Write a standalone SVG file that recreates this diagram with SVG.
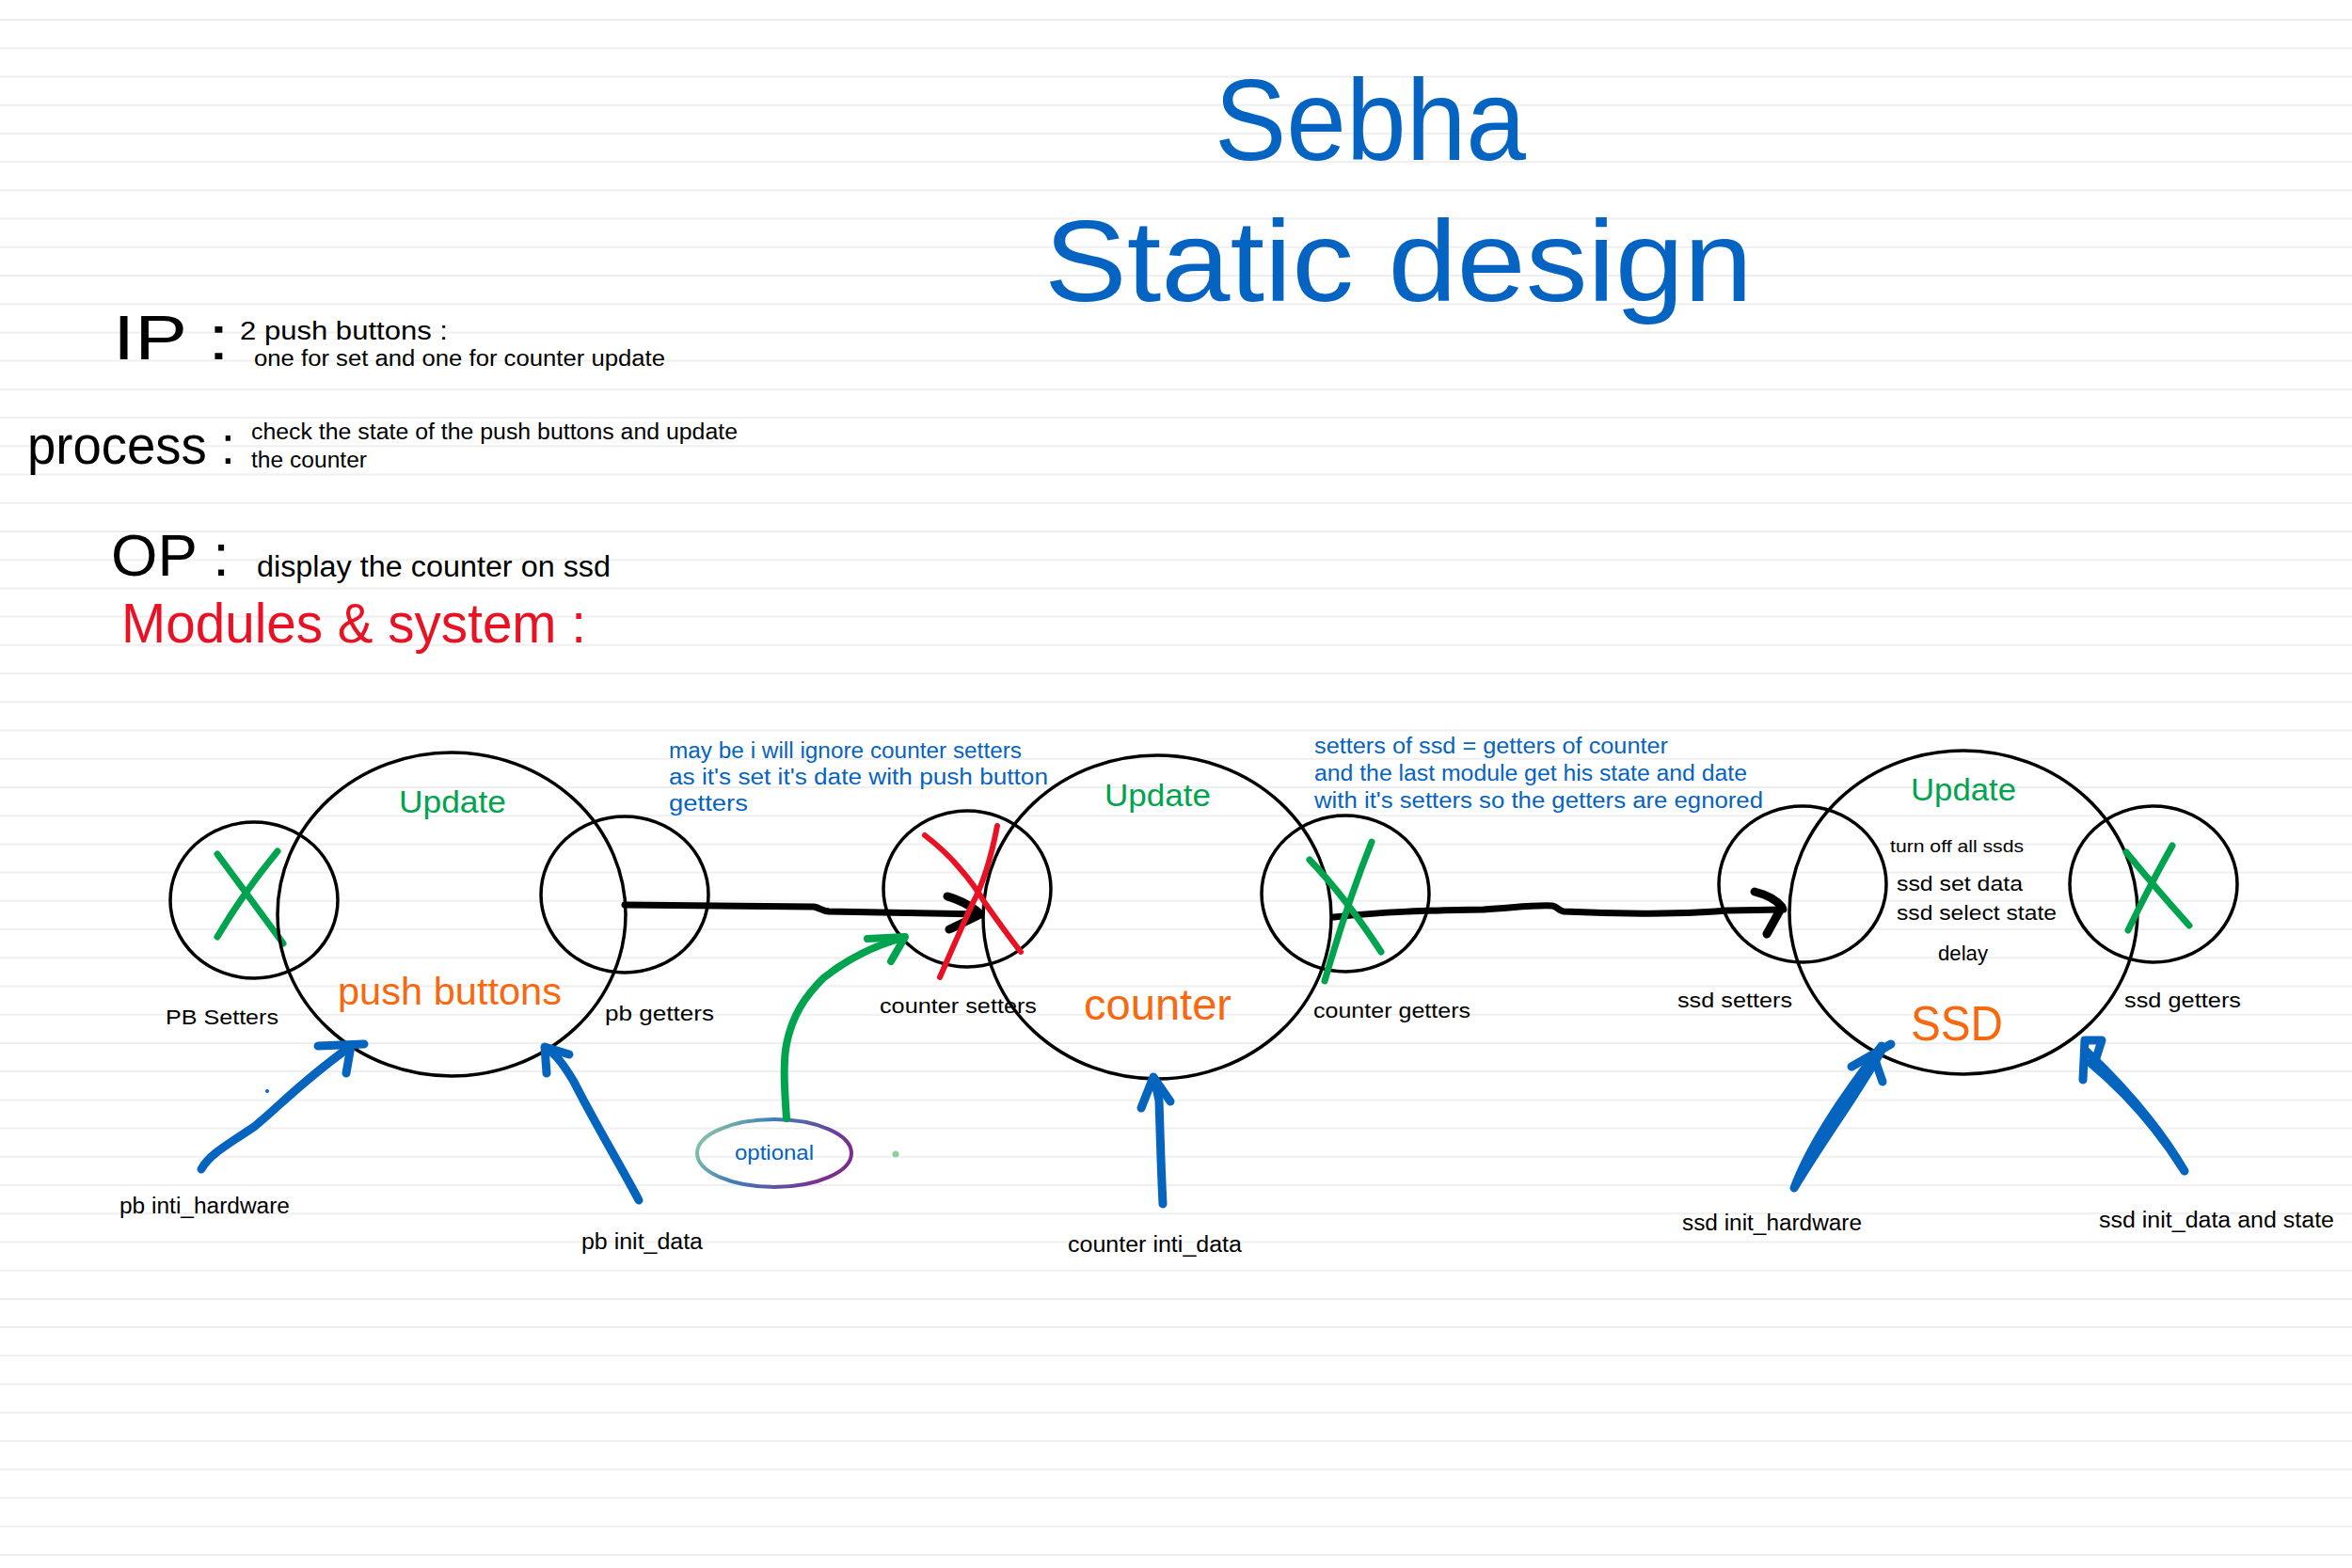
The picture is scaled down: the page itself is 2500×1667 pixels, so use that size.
<svg xmlns="http://www.w3.org/2000/svg" width="2500" height="1667" viewBox="0 0 2500 1667">
<style>
.rule{stroke:#efefef;stroke-width:2}
.c{fill:none;stroke:#000;stroke-width:3.5}
.t{font-family:"Liberation Sans",Arial,sans-serif;fill:#000}
.blue{fill:#0563C1}
.green{fill:#00A34E}
.orange{fill:#F7680F}
.red{fill:#E81224}
.bk{fill:none;stroke:#000;stroke-width:7;stroke-linecap:round;stroke-linejoin:round}
.bkh{fill:none;stroke:#000;stroke-width:9;stroke-linecap:round;stroke-linejoin:round}
.bl{fill:none;stroke:#0565BE;stroke-width:9;stroke-linecap:round;stroke-linejoin:round}
.gr{fill:none;stroke:#00A34E;stroke-width:8;stroke-linecap:round;stroke-linejoin:round}
.gx{fill:none;stroke:#00A34E;stroke-width:7;stroke-linecap:round;stroke-linejoin:round}
.rx{fill:none;stroke:#E81224;stroke-width:6;stroke-linecap:round;stroke-linejoin:round}
</style>
<defs>
<linearGradient id="optg" x1="0" y1="0" x2="1" y2="0.3">
<stop offset="0" stop-color="#9ad4a0"/>
<stop offset="0.45" stop-color="#3f7fb8"/>
<stop offset="1" stop-color="#7a2d8f"/>
</linearGradient>
</defs>
<rect width="2500" height="1667" fill="#fff"/>
<g id="ruling">
<line class="rule" x1="0" x2="2500" y1="21" y2="21"/><line class="rule" x1="0" x2="2500" y1="51.2" y2="51.2"/><line class="rule" x1="0" x2="2500" y1="81.4" y2="81.4"/><line class="rule" x1="0" x2="2500" y1="111.7" y2="111.7"/><line class="rule" x1="0" x2="2500" y1="141.9" y2="141.9"/><line class="rule" x1="0" x2="2500" y1="172.1" y2="172.1"/><line class="rule" x1="0" x2="2500" y1="202.3" y2="202.3"/><line class="rule" x1="0" x2="2500" y1="232.5" y2="232.5"/><line class="rule" x1="0" x2="2500" y1="262.8" y2="262.8"/><line class="rule" x1="0" x2="2500" y1="293" y2="293"/><line class="rule" x1="0" x2="2500" y1="323.2" y2="323.2"/><line class="rule" x1="0" x2="2500" y1="353.4" y2="353.4"/><line class="rule" x1="0" x2="2500" y1="383.6" y2="383.6"/><line class="rule" x1="0" x2="2500" y1="413.9" y2="413.9"/><line class="rule" x1="0" x2="2500" y1="444.1" y2="444.1"/><line class="rule" x1="0" x2="2500" y1="474.3" y2="474.3"/><line class="rule" x1="0" x2="2500" y1="504.5" y2="504.5"/><line class="rule" x1="0" x2="2500" y1="534.7" y2="534.7"/><line class="rule" x1="0" x2="2500" y1="565" y2="565"/><line class="rule" x1="0" x2="2500" y1="595.2" y2="595.2"/><line class="rule" x1="0" x2="2500" y1="625.4" y2="625.4"/><line class="rule" x1="0" x2="2500" y1="655.6" y2="655.6"/><line class="rule" x1="0" x2="2500" y1="685.8" y2="685.8"/><line class="rule" x1="0" x2="2500" y1="716.1" y2="716.1"/><line class="rule" x1="0" x2="2500" y1="746.3" y2="746.3"/><line class="rule" x1="0" x2="2500" y1="776.5" y2="776.5"/><line class="rule" x1="0" x2="2500" y1="806.7" y2="806.7"/><line class="rule" x1="0" x2="2500" y1="836.9" y2="836.9"/><line class="rule" x1="0" x2="2500" y1="867.2" y2="867.2"/><line class="rule" x1="0" x2="2500" y1="897.4" y2="897.4"/><line class="rule" x1="0" x2="2500" y1="927.6" y2="927.6"/><line class="rule" x1="0" x2="2500" y1="957.8" y2="957.8"/><line class="rule" x1="0" x2="2500" y1="988" y2="988"/><line class="rule" x1="0" x2="2500" y1="1018.3" y2="1018.3"/><line class="rule" x1="0" x2="2500" y1="1048.5" y2="1048.5"/><line class="rule" x1="0" x2="2500" y1="1078.7" y2="1078.7"/><line class="rule" x1="0" x2="2500" y1="1108.9" y2="1108.9"/><line class="rule" x1="0" x2="2500" y1="1139.1" y2="1139.1"/><line class="rule" x1="0" x2="2500" y1="1169.4" y2="1169.4"/><line class="rule" x1="0" x2="2500" y1="1199.6" y2="1199.6"/><line class="rule" x1="0" x2="2500" y1="1229.8" y2="1229.8"/><line class="rule" x1="0" x2="2500" y1="1260" y2="1260"/><line class="rule" x1="0" x2="2500" y1="1290.2" y2="1290.2"/><line class="rule" x1="0" x2="2500" y1="1320.5" y2="1320.5"/><line class="rule" x1="0" x2="2500" y1="1350.7" y2="1350.7"/><line class="rule" x1="0" x2="2500" y1="1380.9" y2="1380.9"/><line class="rule" x1="0" x2="2500" y1="1411.1" y2="1411.1"/><line class="rule" x1="0" x2="2500" y1="1441.3" y2="1441.3"/><line class="rule" x1="0" x2="2500" y1="1471.6" y2="1471.6"/><line class="rule" x1="0" x2="2500" y1="1501.8" y2="1501.8"/><line class="rule" x1="0" x2="2500" y1="1532" y2="1532"/><line class="rule" x1="0" x2="2500" y1="1562.2" y2="1562.2"/><line class="rule" x1="0" x2="2500" y1="1592.4" y2="1592.4"/><line class="rule" x1="0" x2="2500" y1="1622.7" y2="1622.7"/><line class="rule" x1="0" x2="2500" y1="1652.9" y2="1652.9"/>
</g>
<g id="title">
<text class="t blue" x="1291" y="170" font-size="123" textLength="331" lengthAdjust="spacingAndGlyphs">Sebha</text>
<text class="t blue" x="1110" y="320" font-size="123" textLength="753" lengthAdjust="spacingAndGlyphs">Static  design</text>
</g>
<g id="notes">
<text class="t" x="120" y="382" font-size="66" textLength="124" lengthAdjust="spacingAndGlyphs">IP :</text>
<text class="t" x="255" y="361" font-size="27" textLength="221" lengthAdjust="spacingAndGlyphs">2 push buttons :</text>
<text class="t" x="270" y="389" font-size="23" textLength="437" lengthAdjust="spacingAndGlyphs">one for set and one for counter update</text>
<text class="t" x="29" y="493" font-size="58" textLength="221" lengthAdjust="spacingAndGlyphs">process :</text>
<text class="t" x="267" y="467" font-size="23" textLength="517" lengthAdjust="spacingAndGlyphs">check the state of the push buttons and update</text>
<text class="t" x="267" y="497" font-size="23" textLength="123" lengthAdjust="spacingAndGlyphs">the counter</text>
<text class="t" x="118" y="612" font-size="63" textLength="126" lengthAdjust="spacingAndGlyphs">OP :</text>
<text class="t" x="273" y="613" font-size="31" textLength="376" lengthAdjust="spacingAndGlyphs">display the counter on ssd</text>
<text class="t red" x="129" y="683" font-size="60" textLength="494" lengthAdjust="spacingAndGlyphs">Modules &amp; system :</text>
<text class="t blue" x="711" y="806" font-size="23" textLength="375" lengthAdjust="spacingAndGlyphs">may be i will ignore counter setters</text>
<text class="t blue" x="711" y="834" font-size="23" textLength="403" lengthAdjust="spacingAndGlyphs">as it's set it's date with push button</text>
<text class="t blue" x="711" y="862" font-size="23" textLength="84" lengthAdjust="spacingAndGlyphs">getters</text>
<text class="t blue" x="1397" y="801" font-size="23" textLength="376" lengthAdjust="spacingAndGlyphs">setters of ssd = getters of counter</text>
<text class="t blue" x="1397" y="830" font-size="23" textLength="460" lengthAdjust="spacingAndGlyphs">and the last module get his state and date</text>
<text class="t blue" x="1397" y="859" font-size="23" textLength="477" lengthAdjust="spacingAndGlyphs">with it's setters so the getters are egnored</text>
</g>
<g id="pb-setters">
<ellipse class="c" cx="270" cy="957" rx="89" ry="83"/>
<path class="gx" d="M231,908 Q262,950 301,1003 M295,905 Q258,950 231,996"/>
<text class="t" x="176" y="1089" font-size="22" textLength="120" lengthAdjust="spacingAndGlyphs">PB Setters</text>
</g>
<g id="push-buttons">
<ellipse class="c" cx="480" cy="972" rx="185" ry="172"/>
<text class="t green" x="424" y="864" font-size="33" textLength="114" lengthAdjust="spacingAndGlyphs">Update</text>
<text class="t orange" x="359" y="1068" font-size="40" textLength="238" lengthAdjust="spacingAndGlyphs">push buttons</text>
</g>
<g id="pb-getters">
<ellipse class="c" cx="664" cy="951" rx="89" ry="83"/>
<text class="t" x="643" y="1085" font-size="22" textLength="116" lengthAdjust="spacingAndGlyphs">pb getters</text>
</g>
<g id="counter-setters">
<ellipse class="c" cx="1028" cy="945" rx="89" ry="83"/>
<text class="t" x="935" y="1077" font-size="22" textLength="167" lengthAdjust="spacingAndGlyphs">counter setters</text>
</g>
<g id="counter">
<ellipse class="c" cx="1230" cy="975" rx="185" ry="172"/>
<text class="t green" x="1174" y="857" font-size="33" textLength="113" lengthAdjust="spacingAndGlyphs">Update</text>
<text class="t orange" x="1152" y="1084" font-size="46" textLength="157" lengthAdjust="spacingAndGlyphs">counter</text>
</g>
<g id="counter-getters">
<ellipse class="c" cx="1430" cy="950" rx="89" ry="83"/>
<text class="t" x="1396" y="1082" font-size="22" textLength="167" lengthAdjust="spacingAndGlyphs">counter getters</text>
</g>
<g id="ssd-setters">
<ellipse class="c" cx="1916" cy="940" rx="89" ry="83"/>
<text class="t" x="1783" y="1071" font-size="22" textLength="122" lengthAdjust="spacingAndGlyphs">ssd setters</text>
</g>
<g id="ssd">
<ellipse class="c" cx="2087" cy="970" rx="185" ry="172"/>
<text class="t green" x="2031" y="851" font-size="33" textLength="112" lengthAdjust="spacingAndGlyphs">Update</text>
<text class="t" x="2009" y="906" font-size="19" textLength="142" lengthAdjust="spacingAndGlyphs">turn off all ssds</text>
<text class="t" x="2016" y="947" font-size="22" textLength="134" lengthAdjust="spacingAndGlyphs">ssd set data</text>
<text class="t" x="2016" y="978" font-size="22" textLength="170" lengthAdjust="spacingAndGlyphs">ssd select state</text>
<text class="t" x="2060" y="1021" font-size="22" textLength="53" lengthAdjust="spacingAndGlyphs">delay</text>
<text class="t orange" x="2031" y="1106" font-size="52" textLength="98" lengthAdjust="spacingAndGlyphs">SSD</text>
</g>
<g id="ssd-getters">
<ellipse class="c" cx="2289" cy="940" rx="89" ry="83"/>
<path class="gx" d="M2260,906 Q2292,945 2327,984 M2309,899 Q2283,945 2262,989"/>
<text class="t" x="2258" y="1071" font-size="22" textLength="124" lengthAdjust="spacingAndGlyphs">ssd getters</text>
</g>
<g id="optional">
<ellipse cx="823" cy="1226" rx="82" ry="36" fill="none" stroke="url(#optg)" stroke-width="4"/>
<text class="t blue" x="781" y="1233" font-size="22" textLength="84" lengthAdjust="spacingAndGlyphs">optional</text>
</g>
<g id="init-labels">
<text class="t" x="127" y="1290" font-size="23" textLength="181" lengthAdjust="spacingAndGlyphs">pb inti_hardware</text>
<text class="t" x="618" y="1328" font-size="23" textLength="129" lengthAdjust="spacingAndGlyphs">pb init_data</text>
<text class="t" x="1135" y="1331" font-size="23" textLength="185" lengthAdjust="spacingAndGlyphs">counter inti_data</text>
<text class="t" x="1788" y="1308" font-size="23" textLength="191" lengthAdjust="spacingAndGlyphs">ssd init_hardware</text>
<text class="t" x="2231" y="1305" font-size="23" textLength="250" lengthAdjust="spacingAndGlyphs">ssd init_data and state</text>
</g>
<g id="connectors">
<path class="bk" d="M664,962 L865,964 C871,965 873,968 881,969 L1040,972"/>
<path class="bkh" d="M1007,953 Q1030,960 1042,972 Q1026,980 1009,988"/>
<path class="bk" d="M1418,975 C1470,969 1520,968 1577,967 C1610,965 1630,962 1650,963 C1656,964 1656,968 1662,969 C1720,972 1790,972 1836,968 L1896,967"/>
<path class="bkh" d="M1865,948 Q1885,953 1894,964 L1878,993"/>
<path class="rx" d="M983,888 Q1005,905 1020,923 Q1035,940 1047,960 Q1068,990 1085,1012 M1060,878 Q1050,930 1034,960 Q1018,995 999,1039"/>
<path class="gx" d="M1392,914 Q1431,955 1468,1012 M1458,895 Q1432,960 1408,1043"/>
<path class="gr" d="M836,1189 C834,1160 832,1130 836,1110 C842,1080 855,1060 875,1040 C900,1020 930,1005 960,997"/>
<path class="gr" d="M922,998 L962,996 L947,1022"/>
<path class="bl" d="M214,1243 C222,1228 240,1218 270,1198 C295,1178 320,1150 372,1113"/>
<path class="bl" d="M338,1112 L387,1110 M373,1112 L368,1141"/>
<path class="bl" d="M679,1276 C660,1240 630,1190 610,1150 C598,1130 590,1120 580,1114"/>
<path class="bl" d="M605,1121 L579,1113 L581,1141"/>
<path class="bl" d="M1236,1280 C1234,1240 1233,1200 1232,1170 L1227,1147"/>
<path class="bl" d="M1213,1178 L1226,1145 L1244,1171"/>
<path class="bl" d="M1907,1263 C1925,1215 1960,1165 2000,1112 M1907,1263 C1942,1205 1975,1162 2002,1113"/>
<path class="bl" d="M1968,1134 L2010,1110 M1992,1124 L2001,1150"/>
<path class="bl" d="M2322,1245 C2300,1210 2270,1170 2222,1130 M2322,1245 C2296,1200 2262,1160 2218,1118"/>
<path class="bl" d="M2214,1148 L2216,1106 L2234,1106 L2228,1125"/>
</g>
<circle cx="952" cy="1227" r="3.5" fill="#8fd09a"/>
<circle cx="284" cy="1160" r="2" fill="#0565BE"/>
</svg>
